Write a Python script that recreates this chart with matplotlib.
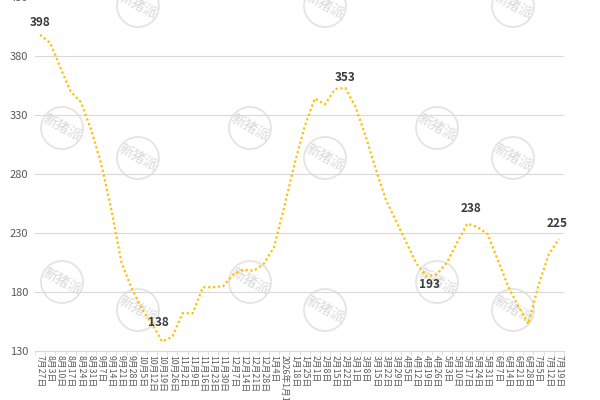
import numpy as np
import matplotlib.pyplot as plt
from matplotlib.patches import Circle

plt.rcParams['font.family'] = ['Noto Sans CJK SC', 'DejaVu Sans']

# weekly dates (Sunday) and prices
weeks = ['7月27日', '8月3日', '8月10日', '8月17日', '8月24日', '8月31日', '9月7日',
         '9月14日', '9月21日', '9月28日', '10月5日', '10月12日', '10月19日', '10月26日',
         '11月2日', '11月9日', '11月16日', '11月23日', '11月30日', '12月7日', '12月14日',
         '12月21日', '12月28日', '1月4日', '2026年1月11日', '1月18日', '1月25日', '2月1日',
         '2月8日', '2月15日', '2月22日', '3月1日', '3月8日', '3月15日', '3月22日',
         '3月29日', '4月5日', '4月12日', '4月19日', '4月26日', '5月3日', '5月10日',
         '5月17日', '5月24日', '5月31日', '6月7日', '6月14日', '6月21日', '6月28日',
         '7月5日', '7月12日', '7月19日']
price = [398, 391, 370, 350, 341, 318, 289, 250, 205, 183, 166, 153, 138, 142,
         162, 162, 184, 184, 185, 195, 199, 198, 204, 218, 252, 288, 320, 344,
         339, 352, 353, 337, 312, 284, 258, 240, 222, 204, 193, 195, 205, 222,
         238, 235, 229, 207, 185, 168, 153, 186, 212, 225]

# labelled points: index, offset in pixels (dx, dy)
label_idx = [0, 12, 30, 38, 42, 51]
label_off = [(0, 12), (-4, 19), (0, 10), (3, -8), (4, 15), (-2, 15)]

# watermark centres (pixels from top-left)
wm_x = [138, 325, 513, 62, 250, 437, 138, 325, 513, 62, 250, 437, 138, 325, 513]
wm_y = [6, 6, 6, 128, 128, 128, 158, 158, 158, 282, 282, 282, 310, 310, 310]

fig = plt.figure(figsize=(6, 4), dpi=100)

bg = fig.add_axes([0, 0, 1, 1], zorder=0)
bg.set_xlim(0, 600)
bg.set_ylim(400, 0)
bg.axis('off')
for cx, cy in zip(wm_x, wm_y):
    bg.add_patch(Circle((cx, cy), 21, fill=False, ec='#e4e4e4', lw=1.3))
    bg.text(cx, cy, '新猪派', rotation=-29, ha='center', va='center',
            fontsize=10, color='#d9d9d9')

ax = fig.add_axes([35 / 600, 49 / 400, 529 / 600, 354 / 400], zorder=1)
ax.patch.set_alpha(0)

x = np.arange(len(price))
ax.plot(x, price, color='#FFC000', lw=1.6, ls=(0, (1, 1.2)))

ax.set_xlim(-0.5, len(price) - 0.5)
ax.set_ylim(130, 430)
ax.set_yticks(range(130, 431, 50))
ax.grid(axis='y', color='#d9d9d9', lw=0.8)
ax.set_axisbelow(True)
for s in ['left', 'right', 'top']:
    ax.spines[s].set_visible(False)
ax.spines['bottom'].set_color('#d9d9d9')

ax.set_xticks(x)
ax.set_xticklabels(weeks, rotation=-90, fontsize=6.3, color='#595959',
                   va='top', ha='center')
ax.set_xticks(np.arange(-0.5, len(price), 1), minor=True)
ax.tick_params(axis='x', which='major', length=0, pad=3)
ax.tick_params(axis='x', which='minor', length=3, color='#d9d9d9')
ax.tick_params(axis='y', length=0, labelsize=8, labelcolor='#595959', pad=5)

for i, (dx, dy) in zip(label_idx, label_off):
    ax.annotate(str(price[i]), (i, price[i]), xytext=(dx * 0.72, dy * 0.72),
                textcoords='offset points', ha='center', va='center',
                fontsize=8.5, fontweight='bold', color='#3a3a3a')

fig.savefig('out.png', dpi=100)
